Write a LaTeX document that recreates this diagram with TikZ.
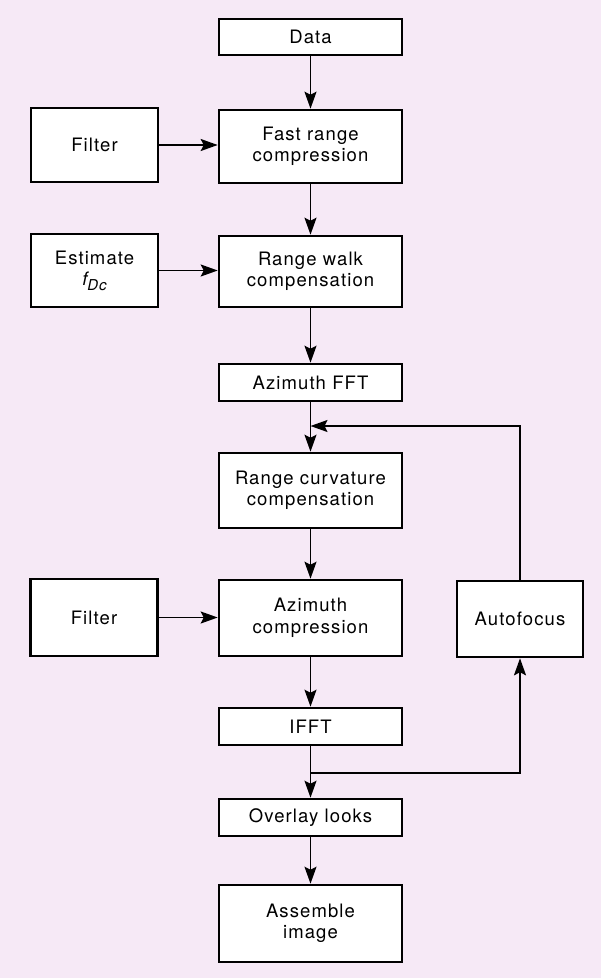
\documentclass[tikz,border=0pt]{standalone}
\usepackage{fontspec}
\setmainfont{TeX Gyre Heros}[LetterSpace=6]
\usetikzlibrary{arrows.meta}
\definecolor{bgpink}{RGB}{246,233,246}
\begin{document}
\begin{tikzpicture}[x=1pt,y=-1pt,
  box/.style={draw=black, fill=white, line width=2.6pt, inner sep=0pt, align=center,
    font=\fontsize{18.5}{21.5}\selectfont},
  conn/.style={line width=1.8pt, -{Stealth[length=17pt,width=12pt,inset=3pt]}}]
\fill[bgpink] (0,0) rectangle (601,978);
\useasboundingbox (0,0) rectangle (601,978);

\node[box, minimum width=183pt, minimum height=36pt] (data) at (310.5,37) {Data};
\node[box, minimum width=183pt, minimum height=73pt] (frc) at (310.5,146.5) {Fast range\\compression};
\node[box, minimum width=127pt, minimum height=74pt] (filt1) at (94.5,145) {Filter};
\node[box, minimum width=183pt, minimum height=71pt] (rwc) at (310.5,271.5) {Range walk\\compensation};
\node[box, minimum width=127pt, minimum height=73pt] (est) at (94.5,270.5)
  {Estimate\\{\itshape f}\raisebox{-0.45ex}{\fontsize{15}{15}\selectfont\itshape Dc}};
\node[box, minimum width=183pt, minimum height=37pt] (afft) at (310.5,382.5) {Azimuth FFT};
\node[box, minimum width=183pt, minimum height=75pt] (rcc) at (310.5,490.5) {Range curvature\\compensation};
\node[box, minimum width=127pt, minimum height=77pt] (filt2) at (94,617.5) {Filter};
\node[box, minimum width=183pt, minimum height=76pt] (azc) at (310.5,618) {Azimuth\\compression};
\node[box, minimum width=126pt, minimum height=76pt] (auto) at (520,619) {Autofocus};
\node[box, minimum width=183pt, minimum height=37pt] (ifft) at (310.5,726.5) {IFFT};
\node[box, minimum width=183pt, minimum height=37pt] (ovl) at (310.5,817.5) {Overlay looks};
\node[box, minimum width=183pt, minimum height=77pt] (asm) at (310.5,923.5) {Assemble\\image};

\coordinate (j1) at (310.5,426);
\coordinate (j2) at (310.5,773);

\draw[conn] (data) -- (frc);
\draw[conn] (filt1.east) -- (filt1.east -| frc.west);
\draw[conn] (frc) -- (rwc);
\draw[conn] (est.east) -- (est.east -| rwc.west);
\draw[conn] (rwc) -- (afft);
\draw[conn] (afft) -- (rcc);
\draw[conn] (auto.north) |- (j1);
\draw[conn] (rcc) -- (azc);
\draw[conn] (filt2.east) -- (filt2.east -| azc.west);
\draw[conn] (azc) -- (ifft);
\draw[conn] (ifft) -- (ovl);
\draw[conn] (j2) -| (auto.south);
\draw[conn] (ovl) -- (asm);
\end{tikzpicture}
\end{document}
